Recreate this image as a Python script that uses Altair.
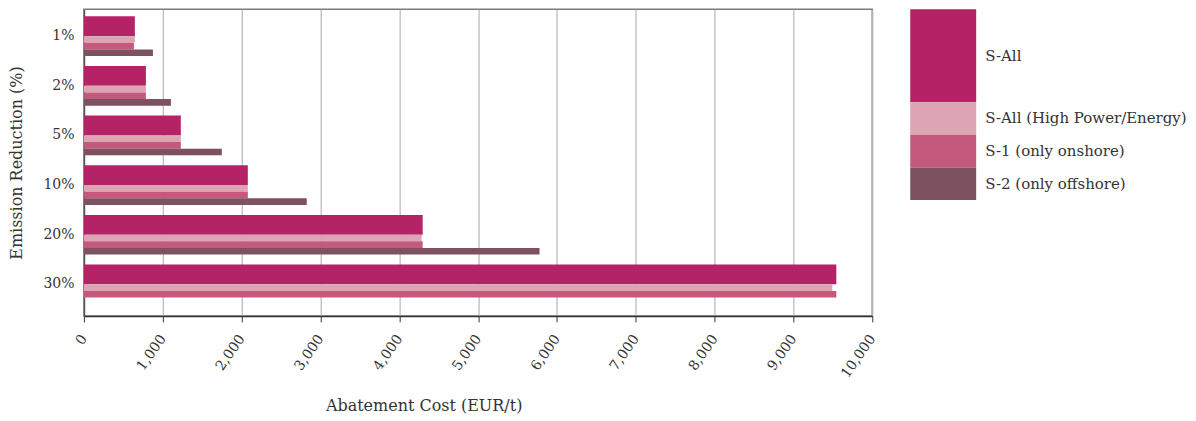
import altair as alt
import pandas as pd

categories = ["1%", "2%", "5%", "10%", "20%", "30%"]
series = ["S-All", "S-All (High Power/Energy)", "S-1 (only onshore)", "S-2 (only offshore)"]
s_all = [646, 786, 1229, 2079, 4297, 9544]
s_all_hpe = [646, 786, 1229, 2079, 4284, 9493]
s_1 = [634, 786, 1229, 2079, 4297, 9544]
s_2 = [875, 1103, 1749, 2826, 5779, None]
colors = ["#B42366", "#DDA5B3", "#C5587D", "#7D5160"]
x_ticks = list(range(0, 10001, 1000))

rows = []
for name, vals in zip(series, [s_all, s_all_hpe, s_1, s_2]):
    for c, v in zip(categories, vals):
        if v is not None:
            rows.append({"category": c, "series": name, "value": v})
df = pd.DataFrame(rows)

FONT = "DejaVu Serif"
TXT = "#333333"

color = alt.Color("series:N", scale=alt.Scale(domain=series, range=colors), legend=None)
y_enc = alt.Y(
    "category:N",
    sort=categories,
    scale=alt.Scale(domain=categories, paddingInner=0.2, paddingOuter=0.19, align=0.38),
    axis=alt.Axis(title="Emission Reduction (%)", ticks=False, labelPadding=10,
                  domainColor="#555555", domainWidth=1.5, titlePadding=18),
)
x_enc = alt.X(
    "value:Q",
    scale=alt.Scale(domain=[0, 10000]),
    axis=alt.Axis(values=x_ticks, format=",.0f", labelAngle=305, labelAlign="right",
                  labelBaseline="middle", tickSize=6, labelPadding=14,
                  tickColor="#333333", domainColor="#333333", domainWidth=1.5,
                  gridColor="#bdbdbd", gridWidth=1.3,
                  title="Abatement Cost (EUR/t)", titleX=340, titleY=90,
                  titleAlign="center", titleBaseline="middle"),
)

layer_a = alt.Chart(df).transform_filter(alt.datum.series == series[0]).mark_bar().encode(
    x=x_enc, y=y_enc, color=color,
    yOffset=alt.YOffset("series:N", scale=alt.Scale(domain=[series[0], "_lower"],
                                                    paddingInner=0, paddingOuter=0)),
)
layer_b = alt.Chart(df).transform_filter(alt.datum.series != series[0]).mark_bar().encode(
    x=x_enc, y=y_enc, color=color,
    yOffset=alt.YOffset("series:N", scale=alt.Scale(domain=["_u1", "_u2", "_u3"] + series[1:],
                                                    paddingInner=0, paddingOuter=0)),
)
main = alt.layer(layer_a, layer_b).resolve_scale(yOffset="independent").properties(
    width=789, height=307, view=alt.ViewBackground(stroke="#7a7a7a", strokeWidth=1.5)
)

legend_df = pd.DataFrame({"series": series, "order": list(range(len(series)))})
leg = (
    alt.Chart(legend_df)
    .transform_calculate(w="datum.series == 'S-All' ? 2.85 : 1")
    .transform_stack(stack="w", groupby=[], as_=["y0", "y1"], sort=[alt.SortField("order")])
    .transform_calculate(ym="(datum.y0 + datum.y1) / 2")
)
rects = leg.mark_rect().encode(
    y=alt.Y("y0:Q", scale=alt.Scale(domain=[0, 5.85], reverse=True, nice=False, zero=False), axis=None),
    y2="y1:Q",
    x=alt.value(0), x2=alt.value(66),
    color=color,
)
texts = leg.mark_text(align="left", baseline="middle", fontSize=15, font=FONT, color=TXT).encode(
    y=alt.Y("ym:Q"), x=alt.value(75), text="series:N"
)
legend_chart = alt.layer(rects, texts).properties(
    width=66, height=191, view=alt.ViewBackground(stroke="transparent")
)

chart = (
    alt.hconcat(main, legend_chart, spacing=30)
    .properties(padding={"left": 0, "top": 0, "right": 0, "bottom": 0})
    .configure(font=FONT)
    .configure_axis(labelFont=FONT, titleFont=FONT, labelFontSize=14, titleFontSize=16,
                    labelColor=TXT, titleColor=TXT, titleFontWeight="normal")
)
chart.save("out.html", embed_options={"renderer": "svg", "actions": False})
